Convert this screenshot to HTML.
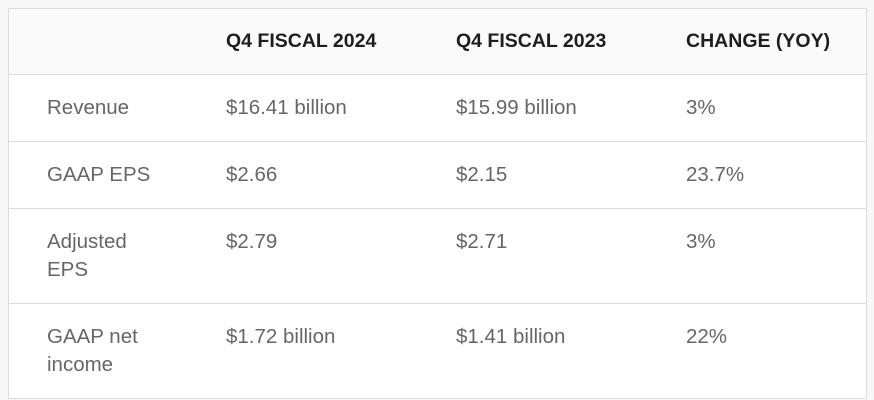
<!DOCTYPE html>
<html><head><meta charset="utf-8"><style>
html,body{margin:0;padding:0;background:#f7f7f7;width:874px;height:400px;overflow:hidden}
body{font-family:"Liberation Sans",Arial,sans-serif}
table{position:absolute;left:8px;top:8px;width:859px;border-collapse:collapse;background:#fff;border:1px solid #dcdcdc}
td,th{border-bottom:1px solid #dcdcdc;text-align:left;vertical-align:top;padding:0;white-space:nowrap}
th{background:#fafafa;color:#1e1e1e;font-weight:bold;font-size:19.5px;height:65px;line-height:65px}
td{color:#666;font-size:20.5px;line-height:28px;padding-top:19px}
.c1{padding-left:38px;width:179px}
.c2{width:230px}.c3{width:230px}
tr.r1 td{height:47px}tr.r2 td{height:47px}tr.r3 td{height:75px}tr.r4 td{height:75px;border-bottom:none}
</style></head><body>
<table>
<tr><th class="c1"></th><th class="c2">Q4 FISCAL 2024</th><th class="c3">Q4 FISCAL 2023</th><th>CHANGE (YOY)</th></tr>
<tr class="r1"><td class="c1">Revenue</td><td>$16.41 billion</td><td>$15.99 billion</td><td>3%</td></tr>
<tr class="r2"><td class="c1">GAAP EPS</td><td>$2.66</td><td>$2.15</td><td>23.7%</td></tr>
<tr class="r3"><td class="c1">Adjusted<br>EPS</td><td>$2.79</td><td>$2.71</td><td>3%</td></tr>
<tr class="r4"><td class="c1">GAAP net<br>income</td><td>$1.72 billion</td><td>$1.41 billion</td><td>22%</td></tr>
</table>
</body></html>
